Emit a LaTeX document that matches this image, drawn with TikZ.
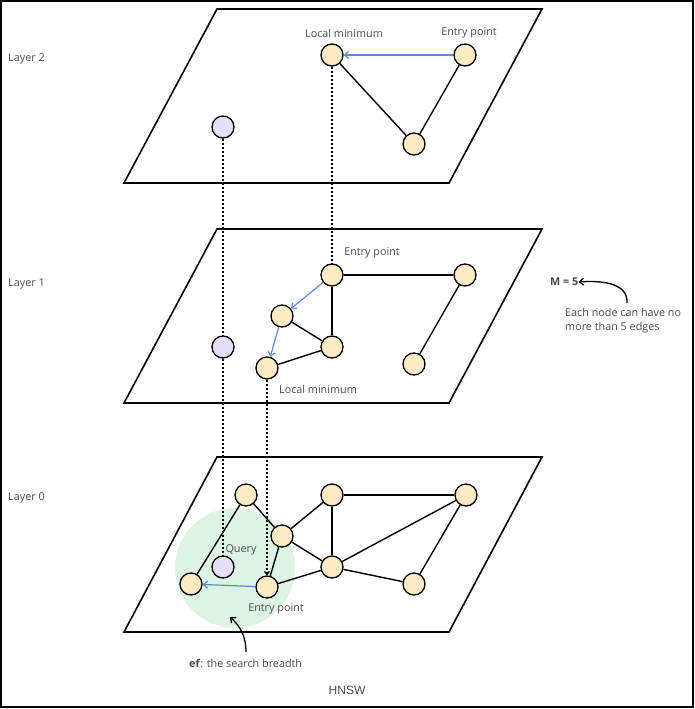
\documentclass[tikz,border=0pt]{standalone}
\usepackage{fontspec}
\setmainfont{Open Sans}
\newfontfamily\hnswfont{Liberation Sans}
\usetikzlibrary{arrows.meta}
\definecolor{nodeyellow}{HTML}{FCEBC4}
\definecolor{nodepurple}{HTML}{E7DEFA}
\definecolor{searchgreen}{HTML}{DDF3E4}
\definecolor{arrowblue}{HTML}{5C8ADB}
\definecolor{labelgray}{HTML}{4A4A4A}
\tikzset{
  plane/.style={draw=black, line width=1.6pt, line join=miter},
  vtx/.style={circle, draw=black, line width=1.3pt, fill=nodeyellow, minimum size=22pt, inner sep=0pt},
  qvtx/.style={vtx, fill=nodepurple},
  edge/.style={draw=black, line width=1.4pt},
  searchstep/.style={draw=arrowblue, line width=1.2pt, -{Straight Barb[length=4pt,width=7pt]}},
  vlink/.style={draw=black, line width=1.3pt, dash pattern=on 2.2pt off 1.8pt},
  lbl/.style={font=\fontsize{10.8}{12}\selectfont, text=labelgray, inner sep=0pt},
  note/.style={font=\fontsize{10.8}{14}\selectfont, text=labelgray, inner sep=0pt, align=left},
  pointer/.style={draw=black, line width=1.3pt, -{Straight Barb[length=4pt,width=7pt]}}
}
\begin{document}
\begin{tikzpicture}[x=1pt,y=-1pt]
\useasboundingbox (0,0) rectangle (695,709);
\draw[line width=1.4pt] (1,1) rectangle (693,707);

% planes
\draw[plane] (217,9) -- (542,9) -- (449,183) -- (124,183) -- cycle;
\draw[plane] (217,229) -- (542,229) -- (449,403) -- (124,403) -- cycle;
\draw[plane] (217,457) -- (542,457) -- (449,632) -- (124,632) -- cycle;

% layer labels
\node[lbl, anchor=west] (l2) at (8,59) {Layer 2};
\node[lbl, anchor=west] (l1) at (8,284) {Layer 1};
\node[lbl, anchor=west] (l0) at (8,498) {Layer 0};

% search breadth region
\fill[searchgreen] (235,568) circle (60);

% Layer 2 nodes
\node[vtx] (a2) at (332,55) {};
\node[vtx] (b2) at (465,55) {};
\node[vtx] (c2) at (414,144) {};
\node[qvtx] (q2) at (223,127) {};
\node[lbl] (a2l) at (344,33) {Local minimum};
\node[lbl] (b2l) at (469,33) {Entry point};
\draw[edge] (a2) -- (c2);
\draw[edge] (b2) -- (c2);
\draw[searchstep] (b2) -- (a2);

% Layer 1 nodes
\node[vtx] (a1) at (332,275) {};
\node[vtx] (b1) at (465,275) {};
\node[vtx] (c1) at (282,316) {};
\node[vtx] (d1) at (332,347) {};
\node[vtx] (e1) at (267,368) {};
\node[vtx] (f1) at (414,364) {};
\node[qvtx] (q1) at (223,347) {};
\node[lbl] (a1l) at (372,253) {Entry point};
\node[lbl] (e1l) at (318,389) {Local minimum};
\draw[edge] (a1) -- (b1);
\draw[edge] (a1) -- (d1);
\draw[edge] (c1) -- (d1);
\draw[edge] (d1) -- (e1);
\draw[edge] (b1) -- (f1);
\draw[searchstep] (a1) -- (c1);
\draw[searchstep] (c1) -- (e1);

% Layer 0 nodes
\node[vtx] (a0) at (246,495) {};
\node[vtx] (b0) at (332,495) {};
\node[vtx] (c0) at (466,495) {};
\node[vtx] (d0) at (282,536) {};
\node[vtx] (e0) at (332,567) {};
\node[vtx] (f0) at (191,584) {};
\node[vtx] (g0) at (267,587) {};
\node[vtx] (h0) at (414,584) {};
\node[qvtx] (q0) at (223,567) {};
\node[lbl] (q0l) at (241,550) {Query};
\node[lbl] (g0l) at (276,609) {Entry point};
\draw[edge] (a0) -- (f0);
\draw[edge] (a0) -- (d0);
\draw[edge] (d0) -- (b0);
\draw[edge] (d0) -- (e0);
\draw[edge] (b0) -- (e0);
\draw[edge] (b0) -- (c0);
\draw[edge] (e0) -- (c0);
\draw[edge] (d0) -- (g0);
\draw[edge] (g0) -- (e0);
\draw[edge] (e0) -- (h0);
\draw[edge] (h0) -- (c0);
\draw[searchstep] (g0) -- (f0);

% vertical links between layers
\draw[vlink] (q2) -- (q1);
\draw[vlink] (a2) -- (a1);
\draw[vlink] (q1) -- (q0);
\draw[vlink, -{Straight Barb[length=3pt,width=5pt]}] (e1) -- (g0);

% M = 5 note
\node[lbl, font=\fontsize{10.8}{12}\selectfont\bfseries, anchor=west] (m5) at (550,282) {M = 5};
\node[note, anchor=north west] (m5n) at (565,308) {Each node can have no\\more than 5 edges};
\coordinate (m5s) at (627,303);
\draw[pointer] (m5s) .. controls (628,285) and (607,280) .. (m5.east);

% ef note
\node[note, anchor=west] (efn) at (189,663) {\textbf{ef}: the search breadth};
\coordinate (efs) at (246,652);
\draw[pointer] (efs) .. controls (246,636) and (240,626) .. (230,617);

% caption
\node[font=\hnswfont\fontsize{12}{14}\selectfont, text=labelgray] (cap) at (347,690) {HNSW};
\end{tikzpicture}
\end{document}
